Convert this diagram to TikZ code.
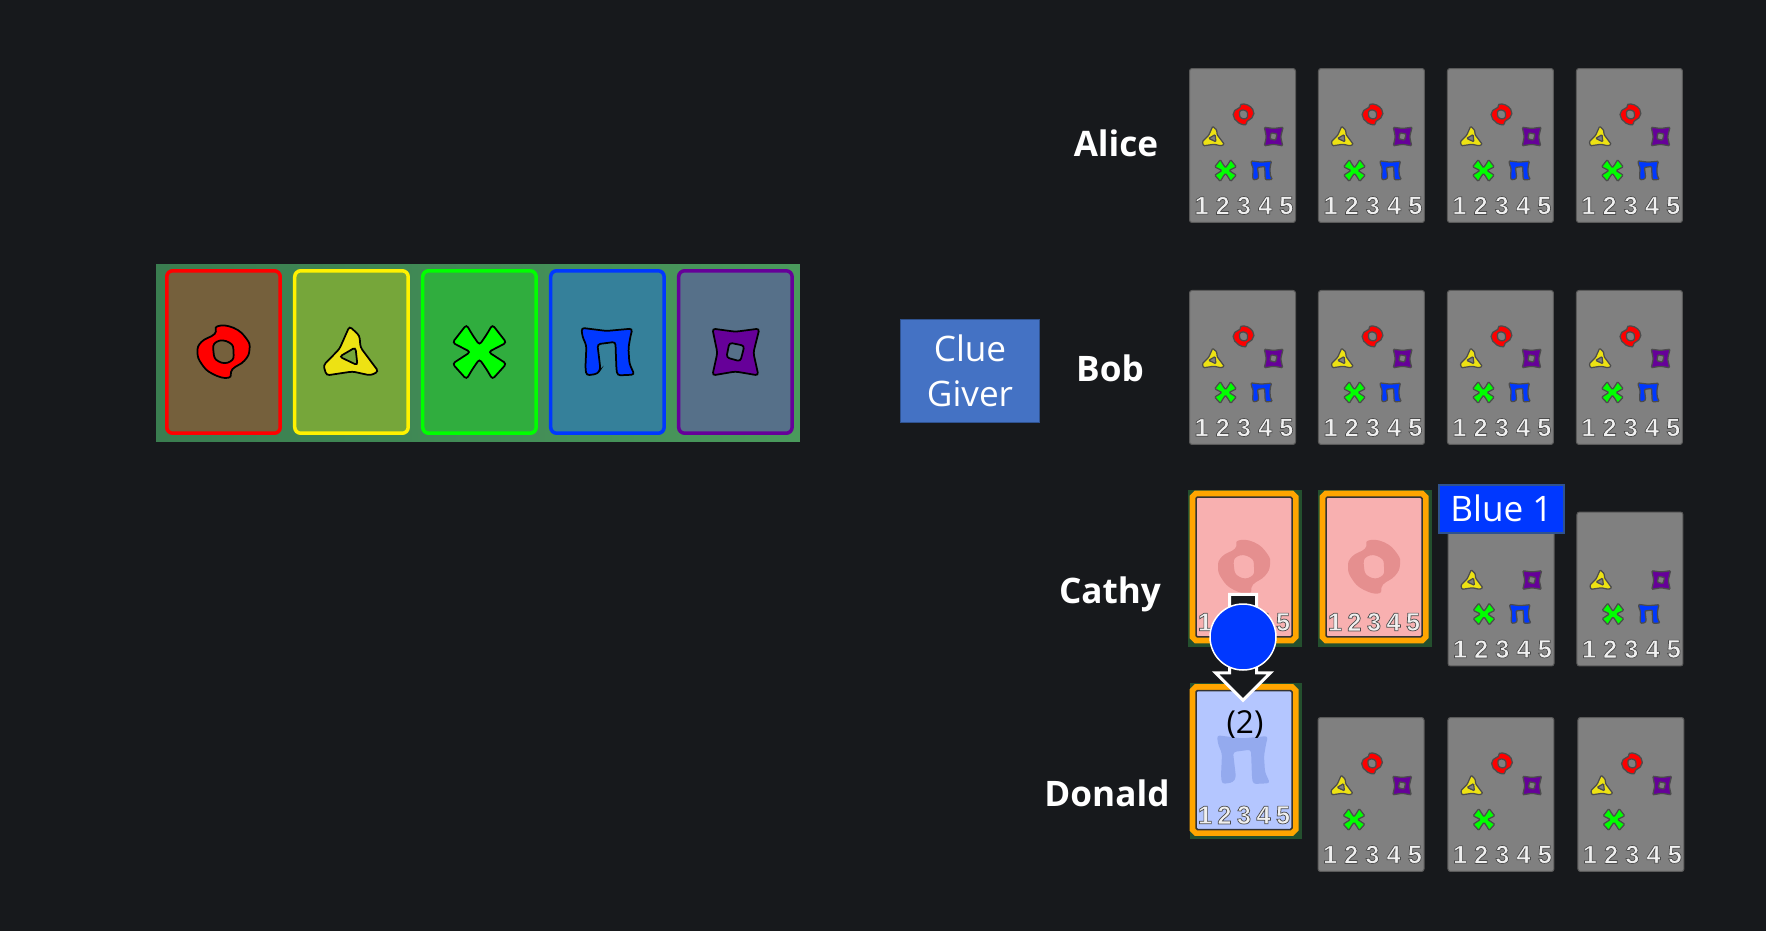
\documentclass[tikz,border=0pt]{standalone}
\usepackage{fontspec}
\setmainfont{Open Sans}
\newfontfamily\digitfont{Liberation Sans}
\usetikzlibrary{positioning,shapes,shapes.arrows,calc}

\definecolor{pagebg}{HTML}{17191C}
\definecolor{cardgrey}{HTML}{808080}
\definecolor{hintblue}{HTML}{0038FF}
\definecolor{boxblue}{HTML}{4472C4}
\definecolor{boxline}{HTML}{2F528F}
\definecolor{softred}{HTML}{E58F8F}
\definecolor{softblue}{HTML}{94AAEE}
\definecolor{paleblue}{HTML}{B4C6FF}
\definecolor{palered}{HTML}{F8B0B0}
\definecolor{markorange}{HTML}{FFA500}
\definecolor{markback}{HTML}{24502E}
\definecolor{stackleft}{HTML}{3A7D50}
\definecolor{stackright}{HTML}{4A9A5C}

% digits with a dark rim, as on the card images
\newcommand{\rimdigit}[1]{\special{pdf:code 2 Tr 0.4 w 0.3 0.3 0.3 RG}#1\special{pdf:code 0 Tr}}

\tikzset{
  greycard/.style={draw=black!30!cardgrey, line width=0.02cm, fill=cardgrey, rounded corners=0.05cm, inner sep=0, outer sep=0, minimum width=2.12cm, minimum height=3.08cm},
  bigcard/.style={line width=0.07cm, rounded corners=0.12cm, inner sep=0, outer sep=0, minimum width=2.27cm, minimum height=3.25cm},
  palecard/.style={draw=black!80, line width=0.03cm, inner sep=0, outer sep=0, rounded corners=0.03cm, minimum width=1.92cm, minimum height=2.8cm, preaction={draw=markorange, line width=0.26cm, rounded corners=0.1cm}},
  markbox/.style={fill=markback, inner sep=0, outer sep=0},
  numlabel/.style={font=\digitfont\bfseries\fontsize{14.5}{15}\selectfont, text=black!6, inner sep=0},
  playername/.style={font=\bfseries\fontsize{20}{24}\selectfont, text=white, inner sep=0},
  sym/.style={draw=black, line width=0.035cm, even odd rule, yscale=0.78, rounded corners=0.06cm},
  tinysym/.style={draw=black!70, line width=0.025cm, even odd rule, xscale=0.4, yscale=0.31, rounded corners=0.02cm},
  flat/.style={even odd rule, yscale=0.8, rounded corners=0.06cm}
}

% the five suit glyphs, centred, drawn at the size of the big cards
\tikzset{
  ringsym/.pic={\path[pic actions, sharp corners] plot[smooth cycle, tension=0.8] coordinates {(-6,-33) (10,-31) (23,-17) (26,-3) (21,11) (9,22) (5,33) (-11,28) (-22,15) (-26,0) (-22,-13) (-9,-23)}
     plot[smooth cycle, tension=0.9] coordinates {(-7,-13) (6,-12) (10,0) (7,12) (-5,12) (-10,0)};},
  trisym/.pic={\path[pic actions] (-2,-33) -- (8,-21) -- (9,-6) -- (27,25) -- (19,30) -- (1,25) -- (-25,30) -- (-28,17) -- (-12,-4) -- cycle
     (4,-6) -- (6,17) -- (-12,6) -- cycle;},
  crosssym/.pic={\path[pic actions] (-13,-35) -- (-7,-22) -- (0,-9) -- (7,-22) -- (13,-35) -- (27,-12) -- (9,0) -- (27,15) -- (13,35) -- (7,22) -- (0,9) -- (-7,22) -- (-13,35) -- (-27,15) -- (-9,0) -- (-27,-12) -- cycle;},
  pisym/.pic={\path[pic actions] (-26,-31) -- (-1,-27) -- (25,-30) -- (23,-20) -- (21,-5) -- (22,15) -- (27,29) -- (10,30) -- (9,22) -- (8,-13) -- (-10,-10) -- (-7,22) -- (-10,28) -- (-21,30) -- (-22,20) -- (-21,-8) -- (-25,-20) -- cycle;},
  squaresym/.pic={\path[pic actions] (-23,-30) -- (0,-26) -- (24,-30) -- (18,1) -- (23,30) -- (0,25) -- (-23,30) -- (-18,1) -- cycle
     (-6,-12) -- (9,-8) -- (5,12) -- (-9,7) -- cycle;}
}

% the row of digits of a card
\newcommand{\numrow}[4]{\foreach \n/\off in {1/0,2/#4,3/2*#4,4/3*#4,5/4*#4} {
    \node[numlabel] (#1n\n) at ($(#1.north west)+(#2+\off,#3)$) {\rimdigit{\n}};}}

\begin{document}
\begin{tikzpicture}[x=0.02cm, y=-0.02cm]
        \path[use as bounding box, fill=pagebg] (0,0) rectangle (1766,931);

        % the stacks on the left
        \node[left color=stackleft, right color=stackright, inner sep=0, minimum width=12.88cm, minimum height=3.54cm] (stacks) at (478,353) {};
        \node[bigcard, draw=red, fill={rgb,255:red,117;green,96;blue,60}] (big1) at (223.5,352) {};
        \node[bigcard, draw=yellow, fill={rgb,255:red,118;green,166;blue,58}] (big2) [right=0.29cm of big1] {};
        \node[bigcard, draw=green, fill={rgb,255:red,48;green,173;blue,62}] (big3) [right=0.29cm of big2] {};
        \node[bigcard, draw=hintblue, fill={rgb,255:red,53;green,128;blue,154}] (big4) [right=0.29cm of big3] {};
        \node[bigcard, draw=violet!80!blue, fill={rgb,255:red,86;green,112;blue,137}] (big5) [right=0.29cm of big4] {};
        \pic[sym, fill=red] at (big1) {ringsym};
        \pic[sym, fill=yellow!92!black] at (big2) {trisym};
        \pic[sym, fill=green] at (big3) {crosssym};
        \pic[sym, fill=hintblue] at (big4) {pisym};
        \pic[sym, fill=violet!80!blue] at (big5) {squaresym};

        \node[fill=boxblue, draw=boxline, line width=0.03cm, text=white, align=center, font=\fontsize{20}{25.5}\selectfont, minimum width=2.78cm, minimum height=2.06cm, inner sep=0] (giver) at (970,371) {Clue\\Giver};

        % the hands, row by row
        \node[greycard] (a1) at (1242.5,145.5) {};
        \node[greycard] (a2) [right=0.46cm of a1] {};
        \node[greycard] (a3) [right=0.46cm of a2] {};
        \node[greycard] (a4) [right=0.46cm of a3] {};
        \node[greycard] (b1) [below=1.36cm of a1] {};
        \node[greycard] (b2) [right=0.46cm of b1] {};
        \node[greycard] (b3) [right=0.46cm of b2] {};
        \node[greycard] (b4) [right=0.46cm of b3] {};
        \node[greycard] (c3) at (1501,589) {};
        \node[greycard] (c4) [right=0.46cm of c3] {};
        \node[greycard] (d2) at (1371,794.5) {};
        \node[greycard] (d3) [right=0.48cm of d2] {};
        \node[greycard] (d4) [right=0.48cm of d3] {};

        \foreach \c in {a1,a2,a3,a4,b1,b2,b3,b4,d2,d3,d4} {
          \pic[tinysym, fill=red] at ($(\c.north west)+(54,46)$) {ringsym};
        }
        \foreach \c in {a1,a2,a3,a4,b1,b2,b3,b4,c3,c4,d2,d3,d4} {
          \pic[tinysym, fill=yellow!92!black] at ($(\c.north west)+(24,68)$) {trisym};
          \pic[tinysym, fill=violet!80!blue] at ($(\c.north west)+(84,68)$) {squaresym};
          \pic[tinysym, fill=green] at ($(\c.north west)+(36,102)$) {crosssym};
          \numrow{\c}{12}{137}{21.2}
        }
        \foreach \c in {a1,a2,a3,a4,b1,b2,b3,b4,c3,c4} {
          \pic[tinysym, fill=hintblue] at ($(\c.north west)+(72,102)$) {pisym};
        }

        % the marked cards
        \node[markbox, minimum width=2.28cm, minimum height=3.14cm] (c1back) at (1245,568.5) {};
        \node[markbox, minimum width=2.28cm, minimum height=3.14cm] (c2back) [right=0.32cm of c1back] {};
        \node[markbox, minimum width=2.24cm, minimum height=3.12cm] (d1back) at (1246,761) {};
        \node[palecard, fill=palered] (c1) at (1244,567) {};
        \node[palecard, fill=palered] (c2) at (1374,567) {};
        \node[palecard, fill=paleblue, minimum height=2.78cm] (d1) at (1244,760) {};
        \pic[flat, fill=softred] at (c1) {ringsym};
        \pic[flat, fill=softred] at (c2) {ringsym};
        \pic[flat, fill=softblue] at (1243,760) {pisym};
        \numrow{c1}{9}{125}{19.5}
        \numrow{c2}{9}{125}{19.5}
        \numrow{d1}{9}{124.5}{19.5}

        % the clue
        \node[single arrow, draw=white, fill=pagebg, line width=0.06cm, rotate=-90, inner xsep=0, inner ysep=0.24cm, minimum height=2.12cm, minimum width=1.04cm, single arrow head extend=0.28cm, shape border uses incircle=false] (cluearrow) at (1243,640.5) {};
        \node[circle, fill=hintblue, draw=white, line width=0.03cm, minimum size=1.32cm, inner sep=0] (cluedot) at (1243,637) {};
        \node[font=\fontsize{18}{20}\selectfont, text=black, inner sep=0] (cluecount) at (1245,725) {(2)};
        \node[fill=hintblue, draw=boxline, line width=0.04cm, text=white, font=\fontsize{20}{24}\selectfont, minimum width=2.5cm, minimum height=0.96cm, inner sep=0] (cluetag) at (1501.5,508.5) {Blue 1};

        \node[playername] (alice) at (1116,143) {Alice};
        \node[playername] (bob) at (1110,368) {Bob};
        \node[playername] (cathy) at (1110,594.5) {Cathy};
        \node[playername] (donald) at (1107,793) {Donald};

        \end{tikzpicture}
\end{document}
